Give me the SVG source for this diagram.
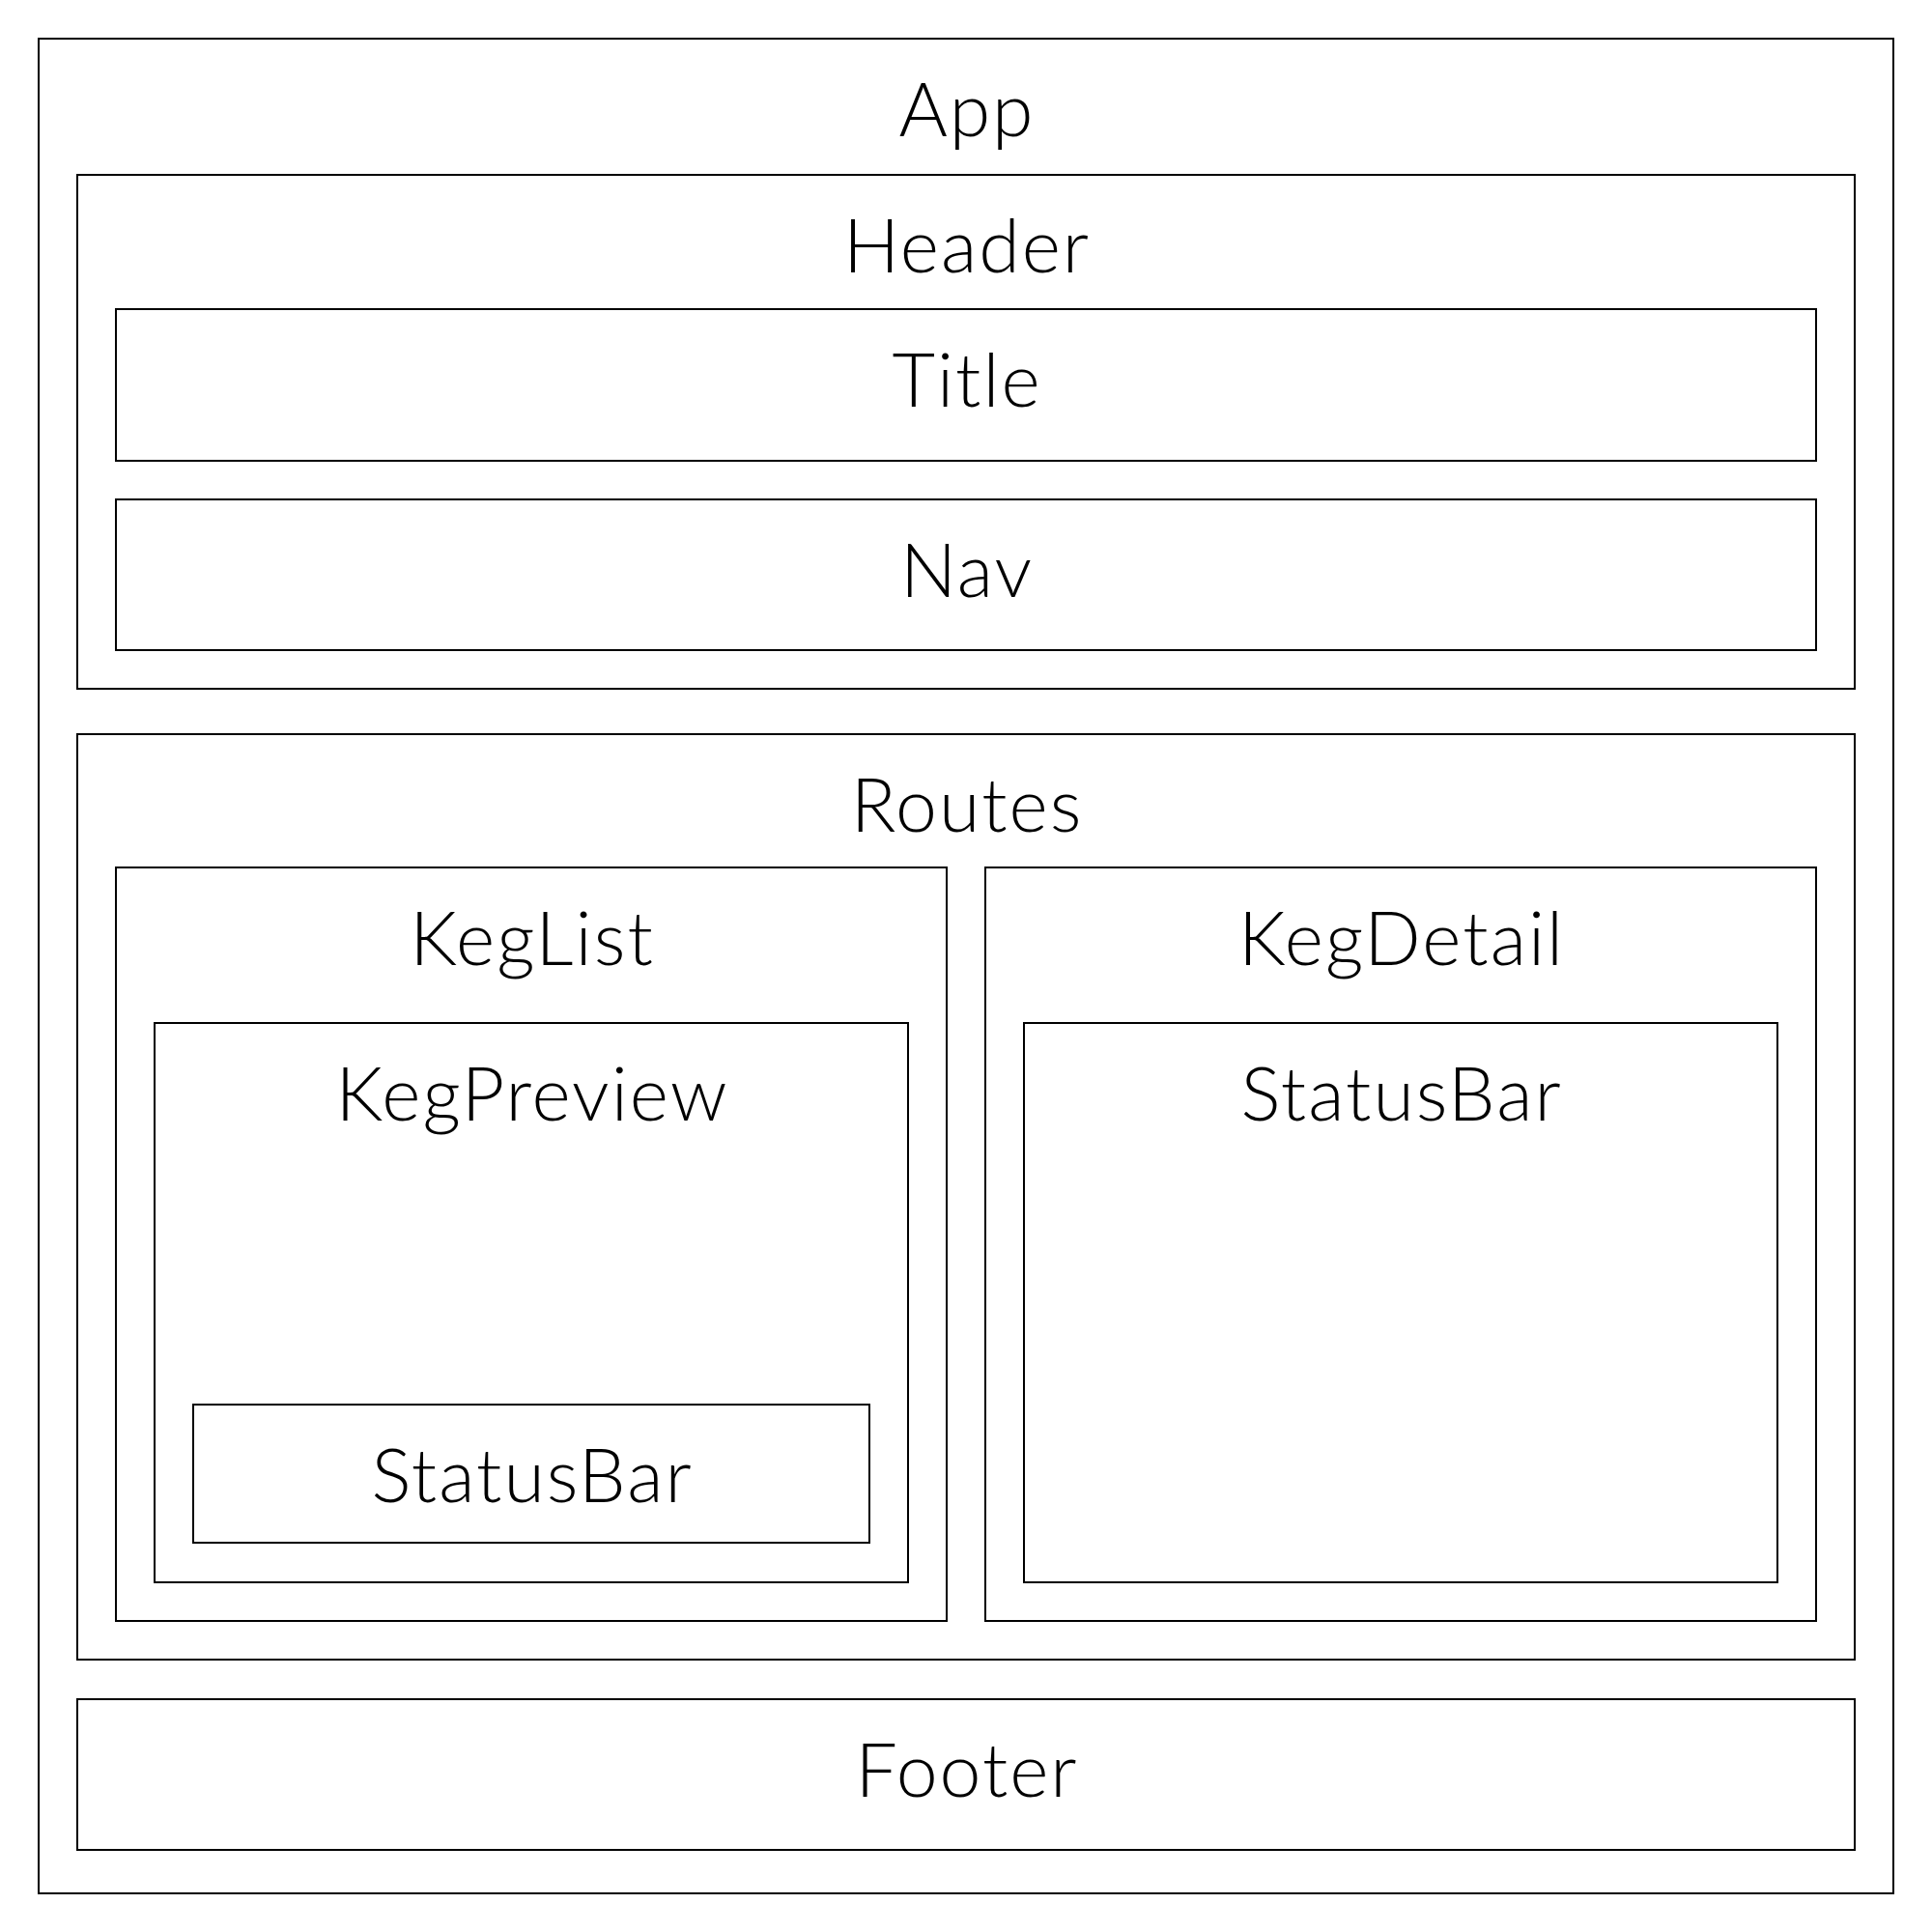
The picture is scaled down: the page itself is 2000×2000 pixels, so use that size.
<svg xmlns="http://www.w3.org/2000/svg" width="2000" height="2000" viewBox="0 0 2000 2000">
<style>
rect.box{fill:none;stroke:#000;stroke-width:2}
text{font-family:Lato,"Open Sans","Liberation Sans",sans-serif;font-weight:300;font-size:77px;letter-spacing:2px;text-anchor:middle;fill:#000}
</style>
<rect width="2000" height="2000" fill="#fff"/>
<g id="app"><rect class="box" x="40" y="40" width="1920" height="1920"/><text x="1001" y="141">App</text></g>
<g id="header"><rect class="box" x="80" y="181" width="1840" height="532"/><text x="1001" y="282">Header</text></g>
<g id="title"><rect class="box" x="120" y="320" width="1760" height="157"/><text x="1001" y="421">Title</text></g>
<g id="nav"><rect class="box" x="120" y="517" width="1760" height="156"/><text x="1001" y="618">Nav</text></g>
<g id="routes"><rect class="box" x="80" y="760" width="1840" height="958"/><text x="1001" y="861">Routes</text></g>
<g id="keglist"><rect class="box" x="120" y="898" width="860" height="780"/><text x="551" y="999">KegList</text></g>
<g id="kegpreview"><rect class="box" x="160" y="1059" width="780" height="579"/><text x="551" y="1160">KegPreview</text></g>
<g id="statusbar1"><rect class="box" x="200" y="1454" width="700" height="143"/><text x="551" y="1555">StatusBar</text></g>
<g id="kegdetail"><rect class="box" x="1020" y="898" width="860" height="780"/><text x="1451" y="999">KegDetail</text></g>
<g id="statusbar2"><rect class="box" x="1060" y="1059" width="780" height="579"/><text x="1451" y="1160">StatusBar</text></g>
<g id="footer"><rect class="box" x="80" y="1759" width="1840" height="156"/><text x="1001" y="1860">Footer</text></g>
<g id="connectors"></g>
</svg>
